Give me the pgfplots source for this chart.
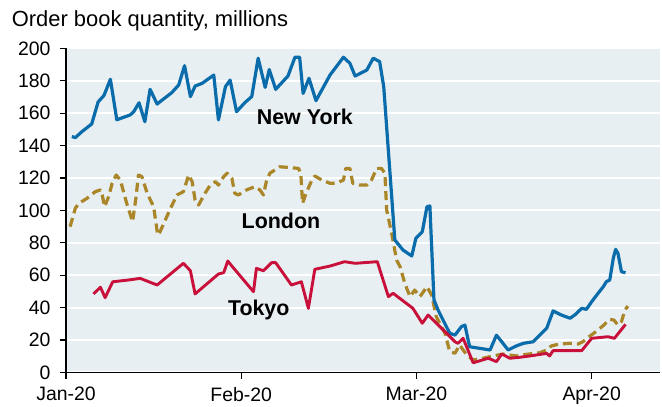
\documentclass[border=0pt]{standalone}
\usepackage{pgfplots}
\pgfplotsset{compat=1.18}
\usepackage{fontspec}
\setmainfont{Liberation Sans}
\definecolor{bg}{RGB}{231,239,243}
\definecolor{nyblue}{RGB}{10,108,170}
\definecolor{ldngold}{RGB}{170,134,40}
\definecolor{tkred}{RGB}{200,16,58}
\begin{document}
\begin{tikzpicture}
\begin{axis}[
  scale only axis, width=594bp, height=324bp,
  xmin=0, xmax=101.7, ymin=0, ymax=200,
  axis lines=left,
  axis line style={-, black, line width=1.3bp},
  axis background/.style={fill=bg},
  ymajorgrids, grid style={white, line width=2bp},
  tick align=outside, major tick length=6bp,
  tick style={black, line width=1.2bp},
  xtick={0,30,60,90}, xticklabels={Jan-20,Feb-20,Mar-20,Apr-20},
  ytick={0,20,...,200},
  tick label style={font=\fontsize{19.5}{23}\selectfont},
  xticklabel style={yshift=-5bp},
  yticklabel style={xshift=-6bp},
  /pgf/number format/assume math mode=true,
  line join=round,
]
% London
\addplot[ldngold, line width=3.2bp, dash pattern=on 9bp off 5bp] table {
x y
0.7 90
1.6 101.4
2.2 104.4
3.6 107.5
5.0 111.6
5.9 112.7
6.2 109.6
6.6 102.4
7.3 108.5
7.9 116.8
8.6 121.9
9.3 118.8
10.4 104.4
11.4 93.1
12.0 108.5
12.4 121.9
13.0 120.9
13.9 110.6
15.0 102.4
15.7 84.9
16.1 86.9
17.0 94.1
17.9 101.4
19.0 109.6
20.1 111.6
21.0 121.9
21.6 117.8
22.1 106.5
22.7 103.4
23.8 110.6
24.7 115.7
25.6 117.8
26.1 115.7
27.0 120.9
27.6 123
28.4 119.9
28.9 110.6
29.5 109.6
30.9 112.7
32.3 114.7
33.2 112.7
33.8 109.6
34.3 117.8
34.9 123
36.6 127
38.0 126.6
39.8 126
40.2 123
40.5 104.4
41.1 110.6
42.1 118.8
42.6 121.3
43.8 118.8
45.2 116.8
46.3 116.8
47.5 118.8
47.9 126
48.6 126
49.1 116.8
50.3 115.7
51.5 115.7
52.3 118.8
53.2 126
54.0 126
54.6 123
54.9 100.3
55.7 86.9
56.6 69.4
57.2 65.3
58.0 55.1
58.9 46.8
59.7 50.9
60.6 46.8
61.2 49.9
61.8 53
62.6 47.8
63.4 34.4
64.9 24.2
65.7 12.8
66.6 11.9
67.4 17
68.6 10.8
69.7 7.7
71.4 8.8
73.1 10.2
74.8 11.4
77.1 10.2
78.8 11.2
81.1 12.2
82.3 13.9
83.1 16.4
84.5 17.6
86.3 18
87.7 17.6
88.5 19
89.7 22.5
91.1 26.2
92.2 29.7
93.1 32.8
93.8 32.4
94.5 29.3
95.1 31.4
95.7 38.6
96.2 41
};
% New York
\addplot[nyblue, line width=3.2bp] table {
x y
1.0 145.6
1.6 145
2.7 148.6
4.4 153.4
5.5 167
6.5 171
7.6 181
8.7 156
11.0 159
11.6 161
12.5 166.5
13.5 154.8
14.4 174.8
15.6 165.7
16.4 168
18.1 172.7
19.3 177.5
20.3 189.4
21.3 170.3
22.1 176.8
23.3 178.5
25.3 183.6
26.1 155.9
27.3 176.4
28.1 180.5
29.2 161
30.6 166.5
31.8 170.3
32.9 194
34.1 176
34.8 187
35.9 174.8
38.0 183
39.2 194.6
40.0 194.6
40.6 172.3
41.6 181.6
42.8 167.8
45.2 183.6
47.5 194.6
48.6 190.9
49.5 183
51.5 186.7
52.6 194
53.7 191.9
54.4 176.4
56.3 81.8
57.7 75.6
59.2 71.9
59.9 82.8
61.0 86.9
61.8 102.3
62.3 102.8
63.0 44.8
63.7 38.6
65.7 24.2
66.6 23.1
67.7 28.3
68.3 29.3
69.1 15.9
72.6 13.9
73.7 23
74.6 19
75.7 13.9
77.1 16.4
78.3 18
80.0 19
81.1 23.1
82.3 27.3
83.4 38
84.8 35.5
86.3 33.5
87.1 35.5
88.3 39.6
89.1 39
90.0 43.7
91.1 48.9
92.0 53
92.5 56
93.1 57.1
93.7 70.5
94.1 76
94.5 73.6
95.1 62.2
95.8 61.6
};
% Tokyo
\addplot[tkred, line width=2.9bp] table {
x y
4.7 48.5
5.9 52.6
6.7 46.2
8.0 56
10.7 57.1
12.7 58.1
15.6 54
20.1 67.4
21.3 62.8
22.1 48.5
26.1 60.8
27.0 61.6
27.7 68.8
28.4 65.7
32.1 49.9
32.6 64.3
33.8 62.8
35.2 67.8
35.9 67.8
38.6 54
40.3 56
41.5 39.6
42.6 63.7
45.2 65.7
47.7 68.4
49.5 67.4
53.3 68.4
55.2 46.8
56.0 48.9
59.4 39.6
61.0 30.4
62.0 35.5
64.3 27.3
66.6 19
67.1 18
68.0 21.1
69.7 6
72.3 8.8
73.7 6.7
74.6 11.4
76.0 8.8
77.7 9.4
79.4 10.2
82.3 11.8
82.8 10.2
83.4 13.5
88.3 13.5
90.0 21.1
92.8 22.1
93.9 21.1
94.8 25.2
95.8 29.7
};
\node[font=\bfseries\fontsize{21.5}{24}\selectfont, anchor=base] at (axis cs:40.9,152.8) {New York};
\node[font=\bfseries\fontsize{21.5}{24}\selectfont, anchor=base] at (axis cs:36.8,89.0) {London};
\node[font=\bfseries\fontsize{21.5}{24}\selectfont, anchor=base] at (axis cs:33.0,34.9) {Tokyo};
\end{axis}
\node[anchor=base west, inner sep=0pt, font=\fontsize{22}{26}\selectfont] at ([xshift=-54.3bp,yshift=21.5bp]current axis.north west) {Order book quantity, millions};
\pgfresetboundingbox
\path[use as bounding box] ([xshift=-66bp,yshift=-34.5bp]current axis.south west) rectangle ([xshift=2bp,yshift=48.5bp]current axis.north east);
\end{tikzpicture}
\end{document}
